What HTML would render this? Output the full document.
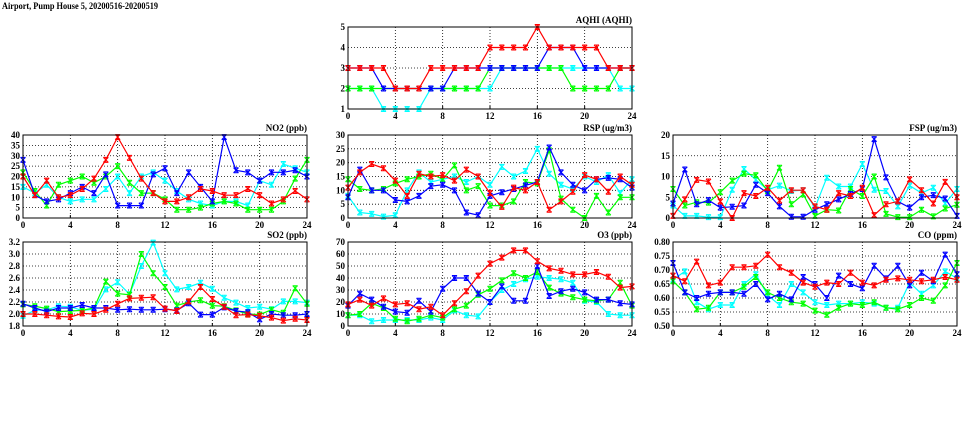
<!DOCTYPE html>
<html><head><meta charset="utf-8"><style>
html,body{margin:0;padding:0;background:#fff;}
svg{display:block;}
text{font-family:"Liberation Serif",serif;font-weight:bold;fill:#000;}
</style></head><body>
<svg id="chart" width="975" height="447" viewBox="0 0 975 447">
<text x="2" y="9" font-size="9" textLength="156" lengthAdjust="spacingAndGlyphs">Airport, Pump House 5, 20200516-20200519</text>
</svg>
<script>
const hours = [0,1,2,3,4,5,6,7,8,9,10,11,12,13,14,15,16,17,18,19,20,21,22,23,24];
const xTicks = [0,4,8,12,16,20,24];
const seriesColors = ["#00ffff","#00ff00","#0000ff","#ff0000"];
const seriesNames = ["cyan","green","blue","red"];

const aqhiTicks = [1,2,3,4,5];
const aqhiRed = [3,3,3,3,2,2,2,3,3,3,3,3,4,4,4,4,5,4,4,4,4,4,3,3,3];
const aqhiBlue = [3,3,3,2,2,2,2,2,2,3,3,3,3,3,3,3,3,4,4,4,3,3,3,3,3];
const aqhiGreen = [2,2,2,2,2,2,2,2,2,2,2,2,3,3,3,3,3,3,3,2,2,2,2,3,3];
const aqhiCyan = [2,2,2,1,1,1,1,2,2,2,2,2,2,3,3,3,3,3,3,3,3,3,3,2,2];

const no2Ticks = [0,5,10,15,20,25,30,35,40];
const no2Red = [20,11,18,10,11,14,19,28,39,29,19,12,8,8,10,14,13,11,11,14,11,7,9,13,9];
const no2Blue = [28,11,8,9,12,15,12,21,6,6,6,21,24,12,22,15,8,39,23,22,18,22,22,23,20];
const no2Green = [22,13,6,16,18,20,17,20,25,17,12,12,9,4,4,5,7,8,7,4,4,4,8,19,28];
const no2Cyan = [15,12,16,10,8,9,9,14,20,12,20,22,18,13,9,7,6,8,8,6,18,16,26,24,22];

const rspTicks = [0,5,10,15,20,25,30];
const rspRed = [11,16.5,19.5,18,13.5,8,16,15,15.5,13.5,17.5,15,9,4,11,10,13,3,6,9.5,15.5,14,9.5,15,12];
const rspBlue = [7.5,17.5,10,10,6.5,6,8,11.5,12,10,2,1,8,9.3,10.5,11.8,13,25.5,16.5,12,10,14,14.5,14,11];
const rspGreen = [14,10.5,10,10.5,12.5,14,15,16,14,19,10,11.5,4.5,4.5,6,13,12.5,24.5,7,3,0,8,2,7.5,7.5];
const rspCyan = [8,2,1.5,0.5,1,10,16.5,13,14,15,13,15,12,18.5,15,17,25,16,12,10.5,15,13,15.5,9,14];

const fspTicks = [0,5,10,15,20];
const fspRed = [0.5,4.5,9.2,8.8,4,0,6,5.3,7.3,4.2,6.7,6.7,2.8,2,6,5.3,7.3,0.7,3.3,4,9.3,6.7,3.5,8.7,5];
const fspBlue = [3.5,11.7,3.3,4.3,2.5,2.7,3,8,6,2.8,0.3,0.3,2,3.3,4.5,5.8,7,19,9.8,4,2.5,5,5.5,4.7,0.5];
const fspGreen = [7,3,3.8,3.7,6.2,9,10.7,10.3,6.5,12.1,3.3,5.7,0.5,2,1.8,7,5.3,10,1,0.2,0.2,2,0.4,2.3,3.2];
const fspCyan = [3,0.5,0.5,0.2,0.2,6.8,11.8,9.2,6.8,7.8,6.5,6.7,2.5,9.7,7.6,7.6,13,6.8,6.5,2.8,7.8,6,7.3,3.5,7];

const so2Ticks = [1.8,2.0,2.2,2.4,2.6,2.8,3.0,3.2];
const so2Red = [2.0,2.0,1.98,1.96,1.95,2.01,2.0,2.07,2.17,2.26,2.27,2.28,2.09,2.05,2.21,2.45,2.25,2.12,1.98,1.99,1.97,1.94,1.89,1.92,1.9];
const so2Blue = [2.17,2.1,2.04,2.1,2.1,2.15,2.1,2.1,2.07,2.08,2.07,2.07,2.08,2.06,2.18,1.99,1.99,2.11,2.05,2.03,1.91,2.0,1.98,1.98,2.0];
const so2Green = [2.16,2.13,2.09,2.04,2.05,2.06,2.1,2.54,2.34,2.32,3.0,2.68,2.45,2.14,2.2,2.23,2.14,2.13,2.06,2.0,1.99,2.07,2.02,2.43,2.17];
const so2Cyan = [1.97,2.06,2.07,2.13,2.12,2.06,2.08,2.41,2.53,2.33,2.8,3.19,2.68,2.41,2.45,2.52,2.42,2.27,2.19,2.1,2.12,2.08,2.21,2.21,2.19];

const o3Ticks = [0,10,20,30,40,50,60,70];
const o3Red = [18,22,17,23,18,19,14,16,9,19,29,42,52,57,63,63,54,48,46,43,43,45,41,32,33];
const o3Blue = [17,27,22,16,12,11,21,12,31,40,40,27,20,33,21,21,50,25,29,31,28,22,22,19,18];
const o3Green = [9,10,19,15,6,4,6,9,7,14,17,26,31,38,44,40,45,32,27,24,22,21,22,36,17];
const o3Cyan = [9,9,4,5,5,5,5,7,5,13,9,8,20,30,35,39,41,40,39,36,21,20,10,9,9];

const coTicks = [0.50,0.55,0.60,0.65,0.70,0.75,0.80];
const coRed = [.68,.66,.73,.645,.655,.71,.71,.715,.755,.71,.69,.655,.64,.655,.65,.69,.655,.645,.665,.67,.665,.66,.665,.675,.665];
const coBlue = [.725,.62,.60,.615,.62,.62,.615,.65,.595,.615,.595,.675,.65,.60,.68,.65,.635,.715,.67,.715,.645,.69,.66,.755,.685];
const coGreen = [.66,.62,.56,.565,.62,.62,.64,.675,.62,.60,.585,.58,.555,.54,.565,.58,.575,.585,.565,.56,.575,.60,.59,.645,.725];
const coCyan = [.665,.695,.585,.56,.575,.575,.65,.685,.61,.575,.65,.62,.585,.575,.58,.58,.585,.58,.565,.565,.655,.615,.645,.695,.67];

const NS = "http://www.w3.org/2000/svg";
const svg = document.getElementById("chart");
function mk(tag, attrs, parent){
  const e = document.createElementNS(NS, tag);
  for (const k in attrs) e.setAttribute(k, attrs[k]);
  (parent||svg).appendChild(e);
  return e;
}

const panels = [
  {key:"aqhi", title:"AQHI (AQHI)", x0:348, x1:632, y0:27, y1:109, ticks:aqhiTicks, dec:0, series:[aqhiCyan,aqhiGreen,aqhiBlue,aqhiRed]},
  {key:"no2", title:"NO2 (ppb)", x0:23, x1:307, y0:135, y1:218, ticks:no2Ticks, dec:0, series:[no2Cyan,no2Green,no2Blue,no2Red]},
  {key:"rsp", title:"RSP (ug/m3)", x0:348, x1:632, y0:135, y1:218, ticks:rspTicks, dec:0, series:[rspCyan,rspGreen,rspBlue,rspRed]},
  {key:"fsp", title:"FSP (ug/m3)", x0:673, x1:957, y0:135, y1:218, ticks:fspTicks, dec:0, series:[fspCyan,fspGreen,fspBlue,fspRed]},
  {key:"so2", title:"SO2 (ppb)", x0:23, x1:307, y0:242, y1:326, ticks:so2Ticks, dec:1, series:[so2Cyan,so2Green,so2Blue,so2Red]},
  {key:"o3", title:"O3 (ppb)", x0:348, x1:632, y0:242, y1:326, ticks:o3Ticks, dec:0, series:[o3Cyan,o3Green,o3Blue,o3Red]},
  {key:"co", title:"CO (ppm)", x0:673, x1:957, y0:242, y1:326, ticks:coTicks, dec:2, series:[coCyan,coGreen,coBlue,coRed]}
];

panels.forEach(p => {
  const g = mk("g", {});
  
  
  const ymin = p.ticks[0], ymax = p.ticks[p.ticks.length-1];
  const sx = v => p.x0 + (v - 0) / 24 * (p.x1 - p.x0);
  const sy = v => p.y1 - (v - ymin) / (ymax - ymin) * (p.y1 - p.y0);
  // grid
  xTicks.forEach(t => {
    if (t > 0 && t < 24) {
      const l = mk("line", {x1:sx(t), x2:sx(t), y1:p.y0, y2:p.y1, stroke:"#000", "stroke-width":0.8, "stroke-dasharray":"1,2"}, g);
      
      
    }
    const tl = mk("text", {x:sx(t), y:p.y1+10, "font-size":9, "text-anchor":"middle"}, g);
    tl.textContent = t;
    
    
    mk("line", {x1:sx(t), x2:sx(t), y1:p.y1, y2:p.y1-3, stroke:"#000"}, g);
  });
  p.ticks.forEach(t => {
    if (t > ymin && t < ymax) {
      const l = mk("line", {x1:p.x0, x2:p.x1, y1:sy(t), y2:sy(t), stroke:"#000", "stroke-width":0.8, "stroke-dasharray":"1,2"}, g);
      
      
    }
    const tl = mk("text", {x:p.x0-3, y:sy(t)+3, "font-size":9, "text-anchor":"end"}, g);
    tl.textContent = t.toFixed(p.dec);
    
    
  });
  // series
  p.series.forEach((vals, si) => {
    const col = seriesColors[si];
    const sg = mk("g", {}, g);
    
    
    const pts = vals.map((v,i) => sx(hours[i]).toFixed(1) + "," + sy(v).toFixed(1)).join(" ");
    const pl = mk("polyline", {points:pts, fill:"none", stroke:col, "stroke-width":1.2}, sg);
    
    
    vals.forEach((v,i) => {
      const cx = sx(hours[i]), cy = sy(v), r = 2.5;
      const m = mk("path", {d:`M${cx-r},${cy-r}L${cx+r},${cy+r}M${cx-r},${cy+r}L${cx+r},${cy-r}M${cx},${cy-r-0.5}L${cx},${cy+r+0.5}M${cx-r},${cy-r}H${cx+r}M${cx-r},${cy+r}H${cx+r}`, stroke:col, "stroke-width":1, fill:"none"}, sg);
      
      
    });
  });
  const fr = mk("rect", {x:p.x0, y:p.y0, width:p.x1-p.x0, height:p.y1-p.y0, fill:"none", stroke:"#000", "stroke-width":1}, g);
  
  
  const tt = mk("text", {x:p.x1, y:p.y0-4, "font-size":9, "text-anchor":"end"}, g);
  tt.textContent = p.title;
  
  
});
</script>
</body></html>
